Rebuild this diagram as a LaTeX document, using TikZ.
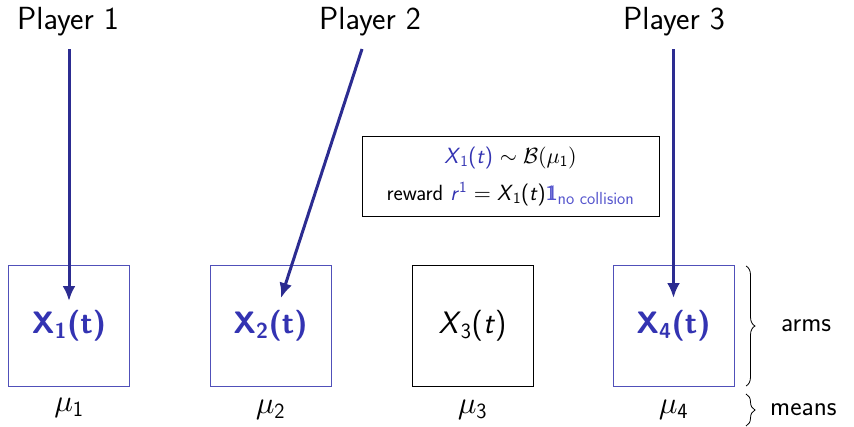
\documentclass[tikz,border=0pt]{standalone}
\usepackage{amsmath,amssymb}
\usetikzlibrary{arrows.meta,decorations.pathreplacing}
\DeclareFontShape{OML}{cmm}{m}{it}{<->cmmi10}{}
\DeclareFontShape{OMS}{cmsy}{m}{n}{<->cmsy10}{}
\DeclareFontShape{OT1}{cmr}{m}{n}{<->cmr10}{}
\renewcommand{\familydefault}{\sfdefault}
\definecolor{struct}{RGB}{51,51,178}
\definecolor{lightstruct}{RGB}{85,85,205}
\definecolor{arrowc}{RGB}{44,44,145}
\definecolor{boxc}{RGB}{80,80,185}
\newcommand{\sfx}[1]{\textsf{\textit{#1}}}
\newcommand{\indic}{\textsf{1\kern-0.40em1}}
\tikzset{
  armbox/.style={draw=boxc, line width=0.8pt, minimum width=121pt, minimum height=121pt, inner sep=0pt, font=\fontsize{31}{36}\selectfont\bfseries, text=struct},
  plainbox/.style={armbox, draw=black, font=\fontsize{31}{36}\selectfont, text=black},
  player/.style={font=\fontsize{32}{36}\selectfont, inner sep=0pt},
  meanlbl/.style={font=\fontsize{31}{34}\selectfont, inner sep=0pt},
  pull/.style={draw=arrowc, line width=3pt, -{Latex[length=15pt,width=13pt]}},
  bracec/.style={decorate, decoration={brace, amplitude=9pt}, line width=0.8pt},
  side/.style={font=\fontsize{27}{31}\selectfont, inner sep=0pt, anchor=west}
}
\begin{document}
\begin{tikzpicture}[x=1pt,y=-1pt]
\useasboundingbox (0,0) rectangle (854,426);
% players
\node[player] (p1) at (68,22) {Player 1};
\node[player] (p2) at (370,22) {Player 2};
\node[player] (p3) at (674,22) {Player 3};
% arms
\node[armbox] (a1) at (69,326) {X\textsubscript{1}(t)};
\node[armbox] (a2) at (270.5,326) {X\textsubscript{2}(t)};
\node[plainbox] (a3) at (472.5,326) {$\sfx{X}_{\textsf{3}}\textsf{(}\sfx{t}\textsf{)}$};
\node[armbox] (a4) at (673.5,326) {X\textsubscript{4}(t)};
% targets
\coordinate (t1) at (69,301);
\coordinate (t2) at (281,298);
\coordinate (t4) at (673.5,298);
\coordinate (s1) at (69,49);
\coordinate (s2) at (362,49);
\coordinate (s4) at (673.5,49);
\draw[pull] (s1) -- (t1);
\draw[pull] (s2) -- (t2);
\draw[pull] (s4) -- (t4);
% means
\node[meanlbl] (m1) at (69,408) {$\mu_{\textsf{1}}$};
\node[meanlbl] (m2) at (270.5,410) {$\mu_{\textsf{2}}$};
\node[meanlbl] (m3) at (472.5,410) {$\mu_{\textsf{3}}$};
\node[meanlbl] (m4) at (673.5,410) {$\mu_{\textsf{4}}$};
% info box
\node[draw=black, line width=0.8pt, minimum width=297pt, minimum height=80pt, inner sep=0pt, align=center, font=\fontsize{22}{26}\selectfont] (info) at (510.5,176)
 {\textcolor{struct}{$\sfx{X}_{\textsf{1}}\textsf{(}\sfx{t}\textsf{)}$} $\sim \mathcal{B}(\mu_{\textsf{1}})$\\[11pt]
  reward \textcolor{struct}{$\sfx{r}^{\textsf{1}}$} $= \sfx{X}_{\textsf{1}}\textsf{(}\sfx{t}\textsf{)}$\textcolor{lightstruct}{$\indic_{\mbox{\fontsize{17.5}{20}\selectfont no collision}}$}};
% braces
\coordinate (b1t) at (746,266);
\coordinate (b1b) at (746,386);
\coordinate (b2t) at (746,394);
\coordinate (b2b) at (746,426);
\draw[bracec] (b1t) -- (b1b);
\draw[bracec] (b2t) -- (b2b);
\node[side] (arms) at (781,326) {arms};
\node[side] (means) at (770,410) {means};
\end{tikzpicture}
\end{document}
